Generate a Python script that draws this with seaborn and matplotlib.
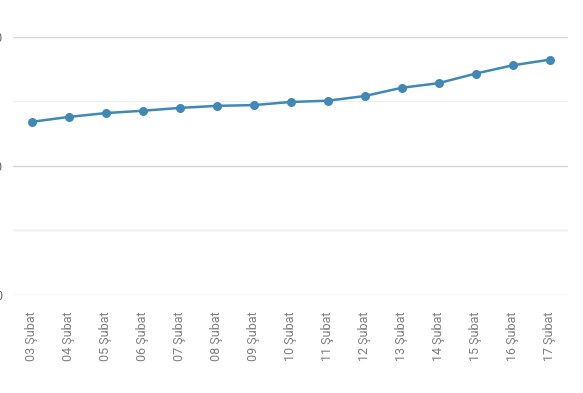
import matplotlib
matplotlib.use('Agg')
import matplotlib.pyplot as plt
import seaborn as sbrn
import pandas as pd

# Günlük değerler (görselden okunmuştur)
days = ['03 Şubat', '04 Şubat', '05 Şubat', '06 Şubat', '07 Şubat',
        '08 Şubat', '09 Şubat', '10 Şubat', '11 Şubat', '12 Şubat',
        '13 Şubat', '14 Şubat', '15 Şubat', '16 Şubat', '17 Şubat']
values = [67.1, 69.0, 70.5, 71.4, 72.5, 73.3, 73.6, 74.8, 75.3, 77.1,
          80.3, 82.1, 85.8, 89.0, 91.2]
y_major = [0, 50, 100]
y_major_labels = ['0', '50', '100']
y_minor = [25, 75]

df = pd.DataFrame({'day': days, 'value': values})

sbrn.set_style('white')
plt.rcParams['font.family'] = ['Roboto', 'DejaVu Sans']

fig = plt.figure(figsize=(5.83, 3.93), dpi=100)
ax = fig.add_axes([0.0223, 0.2494, 0.952, 0.6565])

# Çizgi ve noktalar
sbrn.lineplot(data=df, x='day', y='value', sort=False, ax=ax,
              color='#4088b6', linewidth=1.8, marker='o', markersize=6.5,
              markeredgewidth=0, zorder=3)

ax.set_xlim(-0.5, len(days) - 0.5)
ax.set_ylim(0, 100)

# Izgara çizgileri
ax.set_yticks(y_major)
ax.set_yticklabels(y_major_labels)
ax.set_yticks(y_minor, minor=True)
ax.grid(axis='y', which='major', color='#d4d4d4', linewidth=1)
ax.grid(axis='y', which='minor', color='#eeeeee', linewidth=1)
ax.grid(axis='x', visible=False)

ax.tick_params(axis='y', which='both', length=0, pad=8, labelsize=9, labelcolor='#666666')
ax.tick_params(axis='x', length=0, pad=12, labelsize=9, labelcolor='#808080', rotation=90)
ax.set_xlabel('')
ax.set_ylabel('')

for s in ax.spines.values():
    s.set_visible(False)

fig.savefig('out.png', dpi=100)
plt.close(fig)
